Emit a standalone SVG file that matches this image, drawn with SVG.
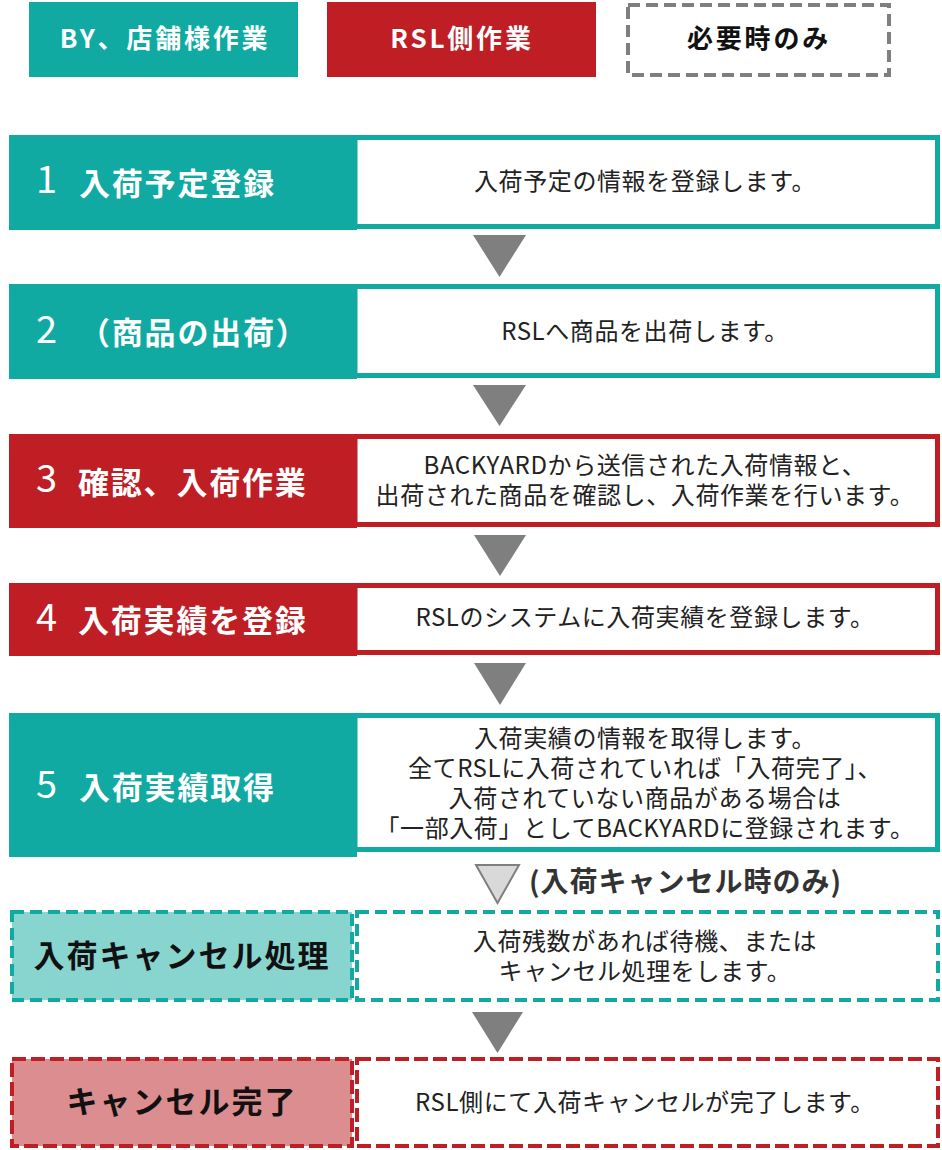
<svg xmlns="http://www.w3.org/2000/svg" width="942" height="1150" viewBox="0 0 942 1150">
<style>
.teal{fill:#10aaa2}
.red{fill:#be1e24}
.outT{fill:#fff;stroke:#10aaa2;stroke-width:5}
.outR{fill:#fff;stroke:#be1e24;stroke-width:5}
.num{font-family:"Noto Sans CJK JP","Noto Sans",sans-serif;font-size:38px;fill:#fff;font-weight:normal}
.hd{font-family:"Noto Sans CJK JP",sans-serif;font-size:31px;font-weight:bold;fill:#fff;letter-spacing:1.8px}
.hdk{font-family:"Noto Sans CJK JP",sans-serif;font-size:31px;font-weight:bold;fill:#111;letter-spacing:2px;text-anchor:middle}
.desc{font-family:"Noto Sans CJK JP",sans-serif;font-size:24px;fill:#222;letter-spacing:0.6px;text-anchor:middle}
.leg{font-family:"Noto Sans CJK JP",sans-serif;font-size:26px;font-weight:bold;letter-spacing:2.8px;text-anchor:middle}
.arr{fill:#7f7f7f}
</style>
<g id="legend">
<rect x="29" y="2" width="269" height="75" class="teal"/>
<text x="165" y="48" class="leg" fill="#fff">BY、店舗様作業</text>
<rect x="327" y="2" width="269" height="75" class="red"/>
<text x="462" y="48" class="leg" fill="#fff">RSL側作業</text>
<rect x="628" y="5" width="261" height="70" fill="#fff" stroke="#7f7f7f" stroke-width="4" stroke-dasharray="12 6"/>
<text x="759" y="48" class="leg" fill="#111">必要時のみ</text>
</g>
<g id="connectors">
<polygon class="arr" points="473,235 526,235 499.5,277"/>
<polygon class="arr" points="473,385 526,385 499.5,426"/>
<polygon class="arr" points="474,535 526,535 500,576"/>
<polygon class="arr" points="474,663 526,663 500,705"/>
<polygon points="476,865 519,865 497.5,903" fill="#d9d9d9" stroke="#7f7f7f" stroke-width="2"/>
<text x="529" y="892" font-family="'Noto Sans CJK JP',sans-serif" font-size="28" font-weight="bold" fill="#333" letter-spacing="1">(入荷キャンセル時のみ)</text>
<polygon class="arr" points="472,1012 523,1012 497.5,1053"/>
</g>
<g id="step1">
<rect x="355" y="137.5" width="582.5" height="89" class="outT"/>
<rect x="9" y="135" width="348" height="95" class="teal"/>
<text x="36" y="193" class="num">1</text>
<text x="79" y="195" class="hd">入荷予定登録</text>
<text x="645" y="190" class="desc">入荷予定の情報を登録します。</text>
</g>
<g id="step2">
<rect x="355" y="286.5" width="582.5" height="89" class="outT"/>
<rect x="9" y="284" width="348" height="95" class="teal"/>
<text x="36" y="343" class="num">2</text>
<text x="79" y="344" class="hd">（商品の出荷）</text>
<text x="645" y="340" class="desc">RSLへ商品を出荷します。</text>
</g>
<g id="step3">
<rect x="355" y="436.5" width="582.5" height="88" class="outR"/>
<rect x="9" y="434" width="348" height="94" class="red"/>
<text x="36" y="492" class="num">3</text>
<text x="78" y="494" class="hd">確認、入荷作業</text>
<text class="desc"><tspan x="645" y="474">BACKYARDから送信された入荷情報と、</tspan><tspan x="645" y="504">出荷された商品を確認し、入荷作業を行います。</tspan></text>
</g>
<g id="step4">
<rect x="355" y="585.5" width="582.5" height="67" class="outR"/>
<rect x="9" y="583" width="348" height="73" class="red"/>
<text x="36" y="631" class="num">4</text>
<text x="78" y="632" class="hd">入荷実績を登録</text>
<text x="645" y="626" class="desc">RSLのシステムに入荷実績を登録します。</text>
</g>
<g id="step5">
<rect x="355" y="715.5" width="582.5" height="134" class="outT"/>
<rect x="9" y="713" width="348" height="144" class="teal"/>
<text x="36" y="798" class="num">5</text>
<text x="79" y="799" class="hd">入荷実績取得</text>
<text class="desc"><tspan x="645" y="747">入荷実績の情報を取得します。</tspan><tspan x="645" y="777">全てRSLに入荷されていれば「入荷完了」、</tspan><tspan x="645" y="807">入荷されていない商品がある場合は</tspan><tspan x="645" y="837">「一部入荷」としてBACKYARDに登録されます。</tspan></text>
</g>
<g id="cancel">
<rect x="357" y="912" width="581" height="88" fill="#fff" stroke="#10aaa2" stroke-width="4" stroke-dasharray="12 6"/>
<rect x="12" y="912" width="340" height="88" fill="#88d5cf" stroke="#10aaa2" stroke-width="4" stroke-dasharray="12 6"/>
<text x="182" y="967" class="hdk">入荷キャンセル処理</text>
<text class="desc"><tspan x="645" y="950">入荷残数があれば待機、または</tspan><tspan x="645" y="980">キャンセル処理をします。</tspan></text>
</g>
<g id="cancel-done">
<rect x="357" y="1059" width="581" height="87" fill="#fff" stroke="#be1e24" stroke-width="4" stroke-dasharray="14 5"/>
<rect x="12" y="1059" width="340" height="87" fill="#dc8d90" stroke="#be1e24" stroke-width="4" stroke-dasharray="14 5"/>
<text x="182" y="1113" class="hdk">キャンセル完了</text>
<text x="645" y="1111" class="desc">RSL側にて入荷キャンセルが完了します。</text>
</g>
</svg>
